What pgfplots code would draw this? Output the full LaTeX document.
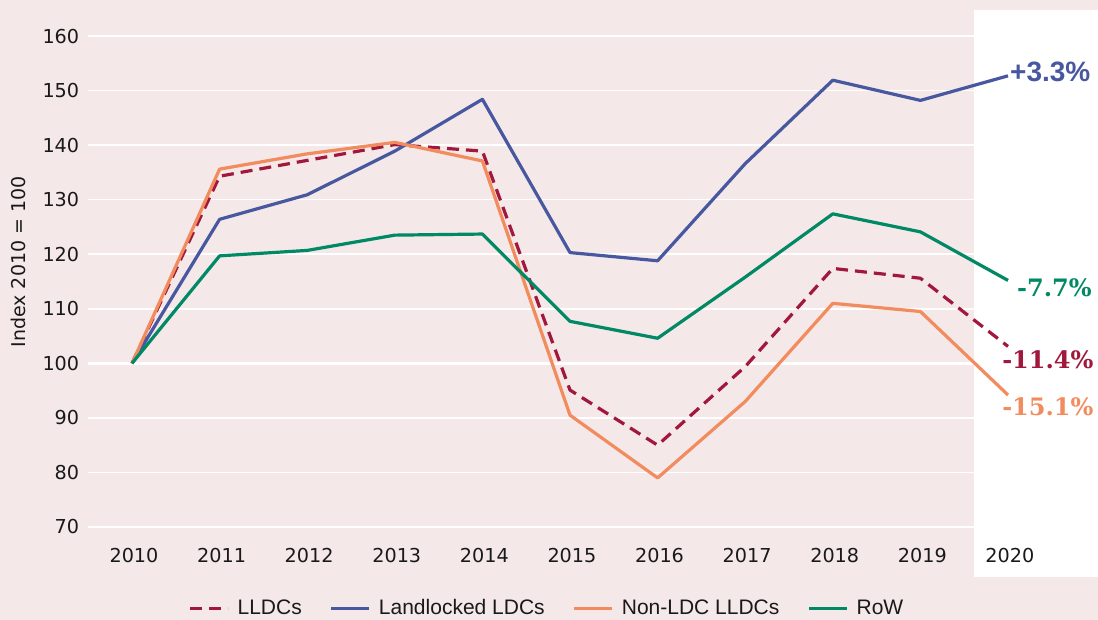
\documentclass[border=0pt]{standalone}
\usepackage{fontspec}
\setmainfont{DejaVu Sans}
\newfontfamily\legfont{Liberation Sans}
\newfontfamily\labsans{Liberation Sans}
\newfontfamily\labserif{DejaVu Serif}
\usepackage{pgfplots}
\pgfplotsset{compat=1.18}
\definecolor{bgpink}{RGB}{245,232,232}
\definecolor{cblue}{RGB}{72,88,160}
\definecolor{cred}{RGB}{160,24,60}
\definecolor{corange}{RGB}{242,140,94}
\definecolor{cgreen}{RGB}{0,137,100}
\definecolor{ctext}{RGB}{25,25,25}
\begin{document}
\begin{tikzpicture}
\fill[bgpink] (0,0) rectangle (549bp,310bp);
\fill[white] (487bp,21.5bp) rectangle (549bp,305bp);
\begin{axis}[
  at={(44.1bp,46.5bp)}, anchor=south west,
  scale only axis, width=481.8bp, height=245.5bp,
  xmin=2009.5, xmax=2020.5, ymin=70, ymax=160,
  xtick={2010,...,2020}, ytick={70,80,...,160},
  axis line style={draw=none}, major tick style={draw=none},
  ymajorgrids, grid style={white, line width=0.8bp},
  /pgf/number format/assume math mode=true,
  /pgf/number format/1000 sep={},
  every tick label/.append style={font=\fontsize{9.6bp}{11bp}\selectfont, text=ctext},
  xticklabel style={yshift=-7.3bp, xshift=1bp},
  yticklabel style={xshift=-1bp},
  ylabel={Index 2010 = 100},
  ylabel style={at={(axis description cs:-0.0723,0.54)}, anchor=center, font=\fontsize{9.5bp}{11bp}\selectfont, text=ctext},
  legend columns=4,
  legend style={at={(axis description cs:0.477,-0.166)}, anchor=center, draw=none, fill=none,
    font=\legfont\fontsize{10.5bp}{12bp}\selectfont, text=ctext,
    /tikz/every odd column/.append style={column sep=2bp},
    /tikz/every even column/.append style={column sep=12bp}},
  legend image code/.code={\draw[#1] (0bp,0bp) -- (19bp,0bp);},
  every axis plot/.append style={line width=1.6bp, line join=round},
  clip=false,
]
\draw[white, line width=1.6bp] (axis cs:2009.5,100) -- (axis cs:2020.5,100);
\addplot[cred, dash pattern=on 6bp off 3.5bp] coordinates {
(2010,100) (2011,134.3) (2012,137.2) (2013,140.1) (2014,138.9) (2015,95.1) (2016,85.0) (2017,99.4) (2018,117.4) (2019,115.6) (2020,103.1)};
\addlegendentry{LLDCs}
\addplot[cblue] coordinates {
(2010,100) (2011,126.4) (2012,130.9) (2013,138.9) (2014,148.4) (2015,120.3) (2016,118.8) (2017,136.6) (2018,151.9) (2019,148.2) (2020,152.7)};
\addlegendentry{Landlocked LDCs}
\addplot[corange] coordinates {
(2010,100) (2011,135.6) (2012,138.4) (2013,140.5) (2014,137.1) (2015,90.5) (2016,79.0) (2017,93.0) (2018,111.0) (2019,109.5) (2020,94.2)};
\addlegendentry{Non-LDC LLDCs}
\addplot[cgreen] coordinates {
(2010,100) (2011,119.7) (2012,120.7) (2013,123.5) (2014,123.7) (2015,107.7) (2016,104.6) (2017,115.8) (2018,127.4) (2019,124.1) (2020,115.2)};
\addlegendentry{RoW}
\node[anchor=west, inner sep=0pt, text=cblue, font=\labsans\bfseries\fontsize{14bp}{16bp}\selectfont] at (axis cs:2020.02,153.4) {+3.3\%};
\node[anchor=west, inner sep=0pt, text=cgreen, font=\labserif\bfseries\fontsize{12bp}{14bp}\selectfont] at (axis cs:2020.10,113.8) {-7.7\%};
\node[anchor=west, inner sep=0pt, text=cred, font=\labserif\bfseries\fontsize{12bp}{14bp}\selectfont] at (axis cs:2019.93,100.6) {-11.4\%};
\node[anchor=west, inner sep=0pt, text=corange, font=\labserif\bfseries\fontsize{12bp}{14bp}\selectfont] at (axis cs:2019.93,92.0) {-15.1\%};
\end{axis}
\pgfresetboundingbox
\path[use as bounding box] (0,0) rectangle (549bp,310bp);
\end{tikzpicture}
\end{document}
